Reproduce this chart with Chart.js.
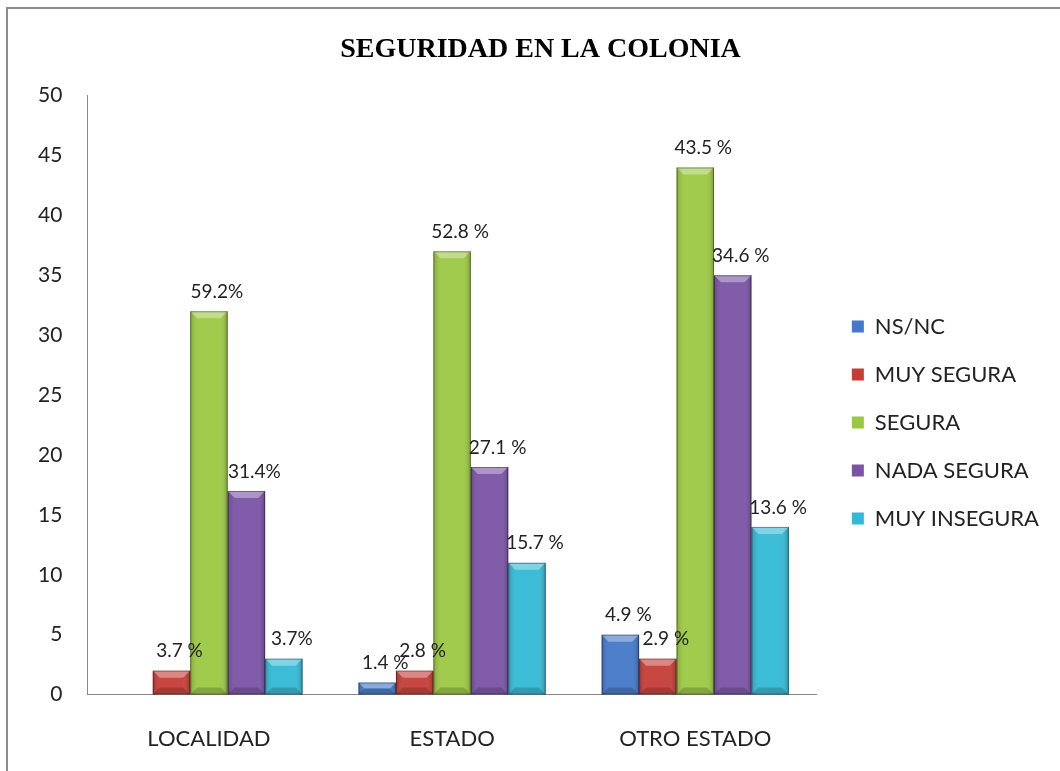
<!DOCTYPE html>
<html>
<head>
<meta charset="utf-8">
<script src="https://cdn.jsdelivr.net/npm/chart.js@4.4.0/dist/chart.umd.min.js"></script>
<style>
    html, body { margin: 0; padding: 0; background: #fff; }
    #frame {
        position: absolute; left: 6px; top: 7px; width: 1100px; height: 800px;
        border-left: 2px solid #8c8c8c; border-top: 2px solid #8c8c8c;
    }
    #wrap { position: absolute; left: 0; top: 0; width: 1060px; height: 771px; }
</style>
</head>
<body>
<div id="frame"></div>
<div id="wrap"><canvas id="chart" width="1060" height="771"></canvas></div>
<script>
// seguridad en la colonia

const categories = ['LOCALIDAD', 'ESTADO', 'OTRO ESTADO'];
const seriesNames = ['NS/NC', 'MUY SEGURA', 'SEGURA', 'NADA SEGURA', 'MUY INSEGURA'];

const nsnc = [0, 1, 5];
const muySegura = [2, 2, 3];
const segura = [32, 37, 44];
const nadaSegura = [17, 19, 35];
const muyInsegura = [3, 11, 14];

const nsncLabels = ['', '1.4 %', '4.9 %'];
const muySeguraLabels = ['3.7 %', '2.8 %', '2.9 %'];
const seguraLabels = ['59.2%', '52.8 %', '43.5 %'];
const nadaSeguraLabels = ['31.4%', '27.1 %', '34.6 %'];
const muyInseguraLabels = ['3.7%', '15.7 %', '13.6 %'];

const yTicks = [0, 5, 10, 15, 20, 25, 30, 35, 40, 45, 50];

const colors = ['#4478c8', '#c63d37', '#9bc842', '#7a53a5', '#33b9d5'];

const allValues = [nsnc, muySegura, segura, nadaSegura, muyInsegura];
const allLabels = [nsncLabels, muySeguraLabels, seguraLabels, nadaSeguraLabels, muyInseguraLabels];

const FONT = 'Lato, "Open Sans", sans-serif';

// bevel look on each bar
const bevelPlugin = {
    id: 'bevel',
    afterDatasetsDraw(chart) {
        const ctx = chart.ctx;
        chart.data.datasets.forEach((ds, i) => {
            const meta = chart.getDatasetMeta(i);
            meta.data.forEach(bar => {
                const h = bar.base - bar.y;
                if (h < 1) return;
                const l = bar.x - bar.width / 2, r = bar.x + bar.width / 2;
                const t = bar.y, b = bar.base;
                const e = Math.min(7, h / 2);
                ctx.save();
                // side shading
                const g = ctx.createLinearGradient(l, 0, r, 0);
                g.addColorStop(0, 'rgba(0,0,0,0.18)');
                g.addColorStop(0.2, 'rgba(255,255,255,0.05)');
                g.addColorStop(0.8, 'rgba(255,255,255,0.05)');
                g.addColorStop(1, 'rgba(0,0,0,0.22)');
                ctx.fillStyle = g;
                ctx.fillRect(l, t, r - l, h);
                // top bevel
                ctx.beginPath();
                ctx.moveTo(l, t); ctx.lineTo(r, t);
                ctx.lineTo(r - e, t + e); ctx.lineTo(l + e, t + e);
                ctx.closePath();
                ctx.fillStyle = 'rgba(255,255,255,0.35)';
                ctx.fill();
                // bottom bevel
                ctx.beginPath();
                ctx.moveTo(l, b); ctx.lineTo(r, b);
                ctx.lineTo(r - e, b - e); ctx.lineTo(l + e, b - e);
                ctx.closePath();
                ctx.fillStyle = 'rgba(0,0,0,0.18)';
                ctx.fill();
                ctx.strokeStyle = 'rgba(0,0,0,0.35)';
                ctx.lineWidth = 1;
                ctx.strokeRect(l + 0.5, t + 0.5, r - l - 1, h - 1);
                ctx.restore();
            });
        });
    }
};

// percentage labels above bars
const valueLabelPlugin = {
    id: 'valueLabels',
    afterDatasetsDraw(chart) {
        const ctx = chart.ctx;
        ctx.save();
        ctx.font = '19px ' + FONT;
        ctx.fillStyle = '#222';
        ctx.textAlign = 'center';
        ctx.textBaseline = 'bottom';
        chart.data.datasets.forEach((ds, i) => {
            const meta = chart.getDatasetMeta(i);
            meta.data.forEach((bar, j) => {
                const txt = allLabels[i][j];
                if (!txt) return;
                ctx.fillText(txt, bar.x + 8, bar.y - 10);
            });
        });
        ctx.restore();
    }
};

// nudge the legend and title a little to the right
const boxShift = {
    id: 'boxShift',
    afterLayout(chart) {
        const lg = chart.legend;
        if (lg) {
            lg.left += 9;
            lg.right += 9;
        }
        const tb = chart.titleBlock;
        if (tb) {
            tb.left += 14;
            tb.right += 14;
        }
    }
};

new Chart(document.getElementById('chart').getContext('2d'), {
    type: 'bar',
    data: {
        labels: categories,
        datasets: seriesNames.map((name, i) => ({
            label: name,
            data: allValues[i],
            backgroundColor: colors[i],
            borderWidth: 0,
            barPercentage: 1,
            categoryPercentage: 0.77
        }))
    },
    options: {
        responsive: false,
        animation: false,
        layout: { padding: { top: 6, right: 20, left: 13, bottom: -12 } },
        plugins: {
            title: {
                display: true,
                text: 'SEGURIDAD EN LA COLONIA',
                font: { family: '"Liberation Serif", serif', size: 28, weight: 'bold' },
                color: '#000',
                padding: { top: 27, bottom: 29 }
            },
            legend: {
                position: 'right',
                title: { display: true, text: ' ', font: { size: 10 }, padding: { top: 22, bottom: 22 } },
                labels: {
                    font: { family: FONT, size: 22 },
                    color: '#222',
                    boxWidth: 12,
                    boxHeight: 12,
                    padding: 26
                }
            },
            tooltip: { enabled: false }
        },
        scales: {
            x: {
                grid: { display: false, drawTicks: false },
                border: { display: true, color: '#888' },
                ticks: { font: { family: FONT, size: 22 }, color: '#222', padding: 31 }
            },
            y: {
                min: 0,
                max: 50,
                afterBuildTicks: axis => { axis.ticks = yTicks.map(v => ({ value: v })); },
                grid: { display: false, drawTicks: false },
                border: { display: true, color: '#888' },
                ticks: { font: { family: FONT, size: 21 }, color: '#222', padding: 25 }
            }
        }
    },
    plugins: [bevelPlugin, valueLabelPlugin, boxShift]
});
</script>
</body>
</html>
